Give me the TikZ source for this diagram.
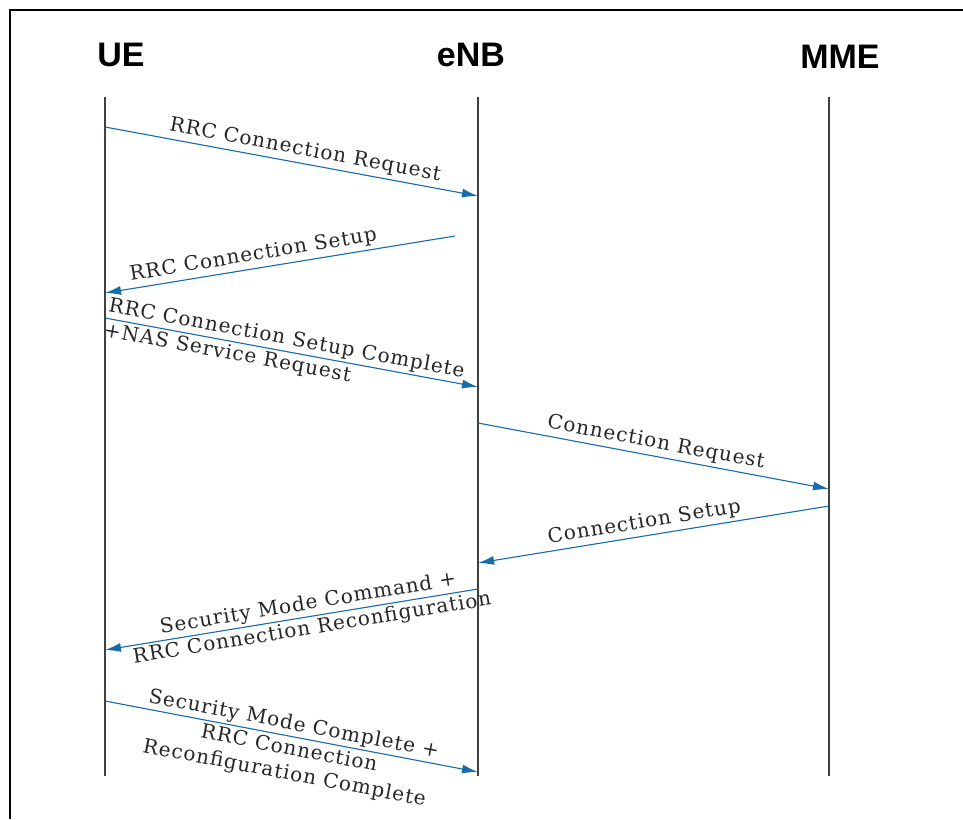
\documentclass[tikz,border=0pt]{standalone}
\usepackage{fontspec}
\setmainfont{DejaVu Serif}[LetterSpace=5]
\newfontfamily\headfont{Liberation Sans}
\usepackage{xcolor}
\usetikzlibrary{arrows.meta}

\definecolor{msgblue}{RGB}{20,108,168}

\begin{document}
\begin{tikzpicture}[
    x=1pt, y=-1pt,
    actor/.style={font=\headfont\bfseries\fontsize{34}{40}\selectfont},
    life/.style={draw=black!75, line width=1.3pt},
    >={Latex[length=16pt,width=9pt]}, % arrowheads
    msg/.style={->, draw=msgblue, line width=1.1pt},
    lbl/.style={font=\fontsize{20}{25}\selectfont, sloped, text=black!85},
  ]
  \useasboundingbox (0,0) rectangle (963,819);

  % Frame (only top and left edges are visible)
  \draw[line width=2pt] (10,819) -- (10,10) -- (963,10);

  % Actors (top row)
  \node[actor] (ue)  at (121,55) {UE};
  \node[actor] (enb) at (471,55) {eNB};
  \node[actor] (mme) at (840,57) {MME};

  % Lifelines
  \coordinate (ueTop)  at (105,97);  \coordinate (ueBot)  at (105,776);
  \coordinate (enbTop) at (478,97);  \coordinate (enbBot) at (478,776);
  \coordinate (mmeTop) at (829,97);  \coordinate (mmeBot) at (829,776);
  \draw[life] (ueTop) -- (ueBot);
  \draw[life] (enbTop) -- (enbBot);
  \draw[life] (mmeTop) -- (mmeBot);

  % Message end points
  \coordinate (m1a) at (105,127); \coordinate (m1b) at (478,196);
  \coordinate (m2a) at (455,236); \coordinate (m2b) at (105,293);
  \coordinate (m3a) at (105,318); \coordinate (m3b) at (478,387);
  \coordinate (m4a) at (478,423); \coordinate (m4b) at (829,489);
  \coordinate (m5a) at (829,506); \coordinate (m5b) at (478,563);
  \coordinate (m6a) at (478,589); \coordinate (m6b) at (105,650);
  \coordinate (m7a) at (105,701); \coordinate (m7b) at (478,772);

  % UE <-> eNB (RRC setup)
  \draw[msg] (m1a) -- node[lbl, above, pos=0.53] (l1) {RRC Connection Request} (m1b);
  \draw[msg] (m2a) -- node[lbl, above, pos=0.57] (l2) {RRC Connection Setup} (m2b);
  \draw[msg] (m3a) -- node[lbl, pos=0, anchor=west, align=left, inner sep=1pt] (l3)
    {RRC Connection Setup Complete\\+NAS Service Request} (m3b);

  % eNB <-> MME
  \draw[msg] (m4a) -- node[lbl, above, midway] (l4) {Connection Request} (m4b);
  \draw[msg] (m5a) -- node[lbl, above, pos=0.52] (l5) {Connection Setup} (m5b);

  % Security mode
  \draw[msg] (m6a) -- node[lbl, pos=0.45, align=center] (l6)
    {Security Mode Command +\\RRC Connection Reconfiguration} (m6b);
  \draw[msg] (m7a) -- node[lbl, midway, align=center, yshift=-13pt] (l7)
    {Security Mode Complete +\\RRC Connection\\Reconfiguration Complete} (m7b);

\end{tikzpicture}
\end{document}
